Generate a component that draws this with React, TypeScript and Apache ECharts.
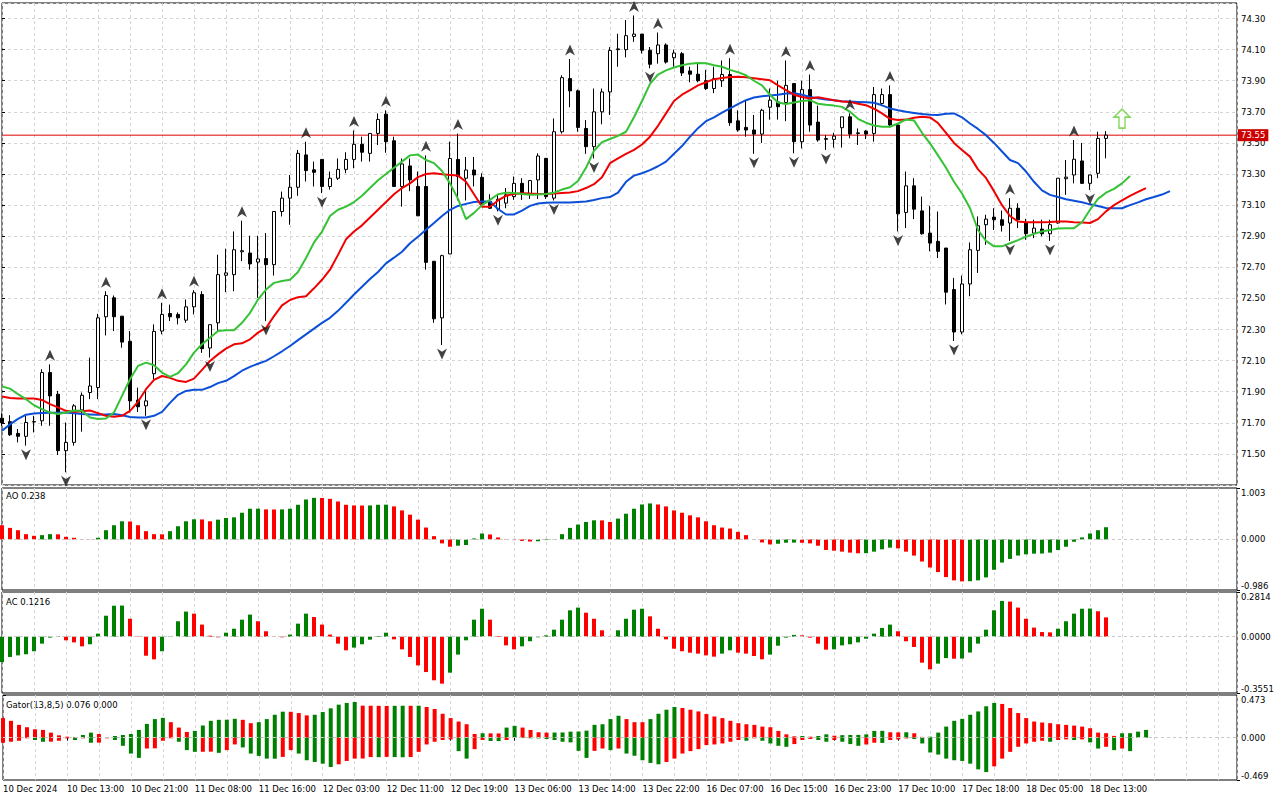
import React, { useEffect, useRef } from "react";
import * as echarts from "echarts";

// ---------------- data ----------------
const tickLabels = [
  "10 Dec 2024", "10 Dec 13:00", "10 Dec 21:00", "11 Dec 08:00", "11 Dec 16:00", "12 Dec 03:00",
  "12 Dec 11:00", "12 Dec 19:00", "13 Dec 06:00", "13 Dec 14:00", "13 Dec 22:00", "16 Dec 07:00",
  "16 Dec 15:00", "16 Dec 23:00", "17 Dec 10:00", "17 Dec 18:00", "18 Dec 05:00", "18 Dec 13:00",
];
const BARS_PER_LABEL = 8;

const opens = [71.73,71.707,71.632,71.613,71.705,71.713,72.023,71.884,71.521,71.574,
71.783,71.895,71.927,72.382,72.504,72.386,72.224,71.846,71.809,72.016,
72.29,72.403,72.397,72.36,72.446,72.525,72.181,72.343,72.649,72.653,
72.80,72.792,72.734,72.756,72.717,73.059,73.145,73.215,73.423,73.327,
73.394,73.22,73.273,73.33,73.394,73.491,73.433,73.561,73.685,73.514,
73.22,73.352,73.22,73.22,72.739,72.375,72.786,73.394,73.273,73.326,
73.279,73.123,73.075,73.113,73.155,73.24,73.17,73.262,73.401,73.145,
73.572,73.914,73.835,73.593,73.476,73.70,73.828,74.10,74.10,74.185,
74.20,74.096,74.074,74.13,74.048,74.074,73.963,73.942,73.90,73.85,
73.90,73.94,73.642,73.60,73.583,73.557,73.73,73.764,73.76,73.882,
73.508,73.843,73.634,73.523,73.523,73.598,73.668,73.561,73.576,73.561,
73.754,73.811,73.615,73.053,73.224,73.063,72.92,72.867,72.824,72.557,
72.284,72.593,72.809,72.974,73.023,73.006,72.985,73.08,72.985,72.92,
72.946,72.916,72.985,73.27,73.294,73.384,73.24,73.305,73.529];

const highs = [71.76,71.749,71.66,71.745,71.745,72.044,72.076,71.905,71.702,71.82,
71.895,72.119,72.401,72.546,72.519,72.386,72.29,71.926,71.916,72.333,
72.472,72.46,72.41,72.493,72.553,72.546,72.331,72.781,72.82,72.931,
73.0,72.903,72.903,72.92,73.059,73.187,73.294,73.455,73.508,73.38,
73.394,73.316,73.40,73.44,73.58,73.54,73.561,73.69,73.71,73.54,
73.40,73.40,73.316,73.42,72.739,72.781,73.508,73.56,73.41,73.41,
73.305,73.17,73.17,73.21,73.284,73.273,73.262,73.433,73.401,73.657,
73.935,74.04,73.843,73.647,73.85,73.85,74.116,74.202,74.29,74.32,
74.20,74.117,74.21,74.14,74.10,74.085,73.99,74.01,73.97,73.99,
74.03,74.045,73.71,73.775,73.68,73.72,73.85,73.90,74.03,73.882,
73.90,73.94,73.74,73.55,73.565,73.668,73.69,73.593,73.583,73.86,
73.85,73.87,73.62,73.316,73.273,73.155,73.096,73.059,72.824,72.632,
72.647,72.86,73.027,73.038,73.08,73.065,73.145,73.112,73.012,73.006,
73.006,73.006,73.273,73.39,73.519,73.50,73.294,73.572,73.576];

const lows = [71.68,71.615,71.574,71.553,71.638,71.681,71.681,71.493,71.382,71.553,
71.643,71.852,71.852,72.262,72.29,72.183,71.766,71.77,71.745,71.98,
72.269,72.354,72.333,72.343,72.397,72.15,72.12,72.29,72.54,72.546,
72.74,72.685,72.504,72.354,72.647,73.027,72.974,73.16,73.252,73.22,
73.177,73.20,73.262,73.305,73.337,73.38,73.38,73.486,73.437,73.22,
73.09,73.19,73.031,72.685,72.343,72.20,72.786,73.13,73.13,73.22,
73.09,73.075,73.06,73.08,73.134,73.134,73.14,73.14,73.14,73.13,
73.56,73.73,73.572,73.43,73.40,73.62,73.68,73.99,74.05,74.15,
74.075,73.98,74.01,74.01,73.99,73.93,73.89,73.89,73.84,73.82,
73.86,73.61,73.572,73.54,73.43,73.50,73.65,73.65,73.64,73.433,
73.465,73.572,73.508,73.455,73.47,73.47,73.53,73.487,73.525,73.508,
73.74,73.60,72.931,72.952,73.01,72.91,72.803,72.76,72.461,72.226,
72.269,72.514,72.664,72.845,72.94,72.93,72.87,72.952,72.877,72.888,
72.9,72.87,72.98,73.166,73.24,73.236,73.198,73.273,73.401];

const closes = [71.70,71.623,71.613,71.702,71.708,72.023,71.873,71.521,71.574,71.809,
71.877,71.937,72.375,72.519,72.382,72.219,71.841,71.803,71.841,72.288,
72.397,72.382,72.375,72.446,72.536,72.177,72.331,72.653,72.664,72.813,
72.807,72.722,72.754,72.717,73.059,73.145,73.215,73.433,73.322,73.311,
73.22,73.273,73.33,73.394,73.491,73.44,73.561,73.651,73.508,73.22,
73.365,73.262,73.031,72.732,72.369,72.775,73.40,73.284,73.326,73.294,
73.113,73.08,73.138,73.166,73.24,73.177,73.258,73.416,73.155,73.572,
73.92,73.835,73.60,73.476,73.70,73.828,74.095,74.105,74.19,74.20,
74.096,74.006,74.13,74.02,74.078,73.95,73.942,73.90,73.85,73.914,
73.94,73.63,73.583,73.583,73.557,73.71,73.775,73.733,73.87,73.508,
73.843,73.615,73.519,73.528,73.544,73.668,73.557,73.565,73.557,73.811,
73.811,73.615,73.044,73.224,73.074,72.916,72.856,72.803,72.54,72.284,
72.593,72.813,72.967,73.01,73.006,72.97,73.08,73.006,72.916,72.952,
72.916,72.974,73.273,73.28,73.395,73.24,73.294,73.529,73.55];

// Alligator (already shifted forward as drawn)
const jaw = [71.649,71.69,71.725,71.752,71.76,71.763,71.764,71.765,71.766,71.762,
71.756,71.754,71.752,71.754,71.756,71.748,71.738,71.734,71.734,71.745,
71.77,71.828,71.88,71.905,71.912,71.912,71.93,71.955,71.97,72.0,
72.035,72.06,72.08,72.098,72.128,72.16,72.194,72.232,72.269,72.306,
72.343,72.375,72.42,72.472,72.525,72.575,72.625,72.67,72.725,72.762,
72.80,72.855,72.897,72.942,72.985,73.03,73.07,73.095,73.108,73.12,
73.123,73.123,73.075,73.04,73.04,73.065,73.095,73.11,73.116,73.117,
73.117,73.117,73.12,73.123,73.133,73.145,73.152,73.18,73.25,73.29,
73.305,73.325,73.35,73.38,73.43,73.48,73.54,73.595,73.64,73.665,
73.695,73.722,73.75,73.775,73.792,73.80,73.805,73.81,73.818,73.82,
73.81,73.796,73.788,73.78,73.774,73.768,73.766,73.764,73.762,73.758,
73.742,73.722,73.71,73.70,73.693,73.686,73.682,73.679,73.688,73.69,
73.665,73.625,73.59,73.55,73.50,73.445,73.39,73.37,73.316,73.25,
73.195,73.166,73.152,73.138,73.128,73.118,73.105,73.094,73.082,73.08,
73.08,73.1,73.118,73.138,73.152,73.168,73.19];

const teeth = [71.869,71.86,71.856,71.856,71.856,71.847,71.82,71.799,71.777,71.771,
71.775,71.779,71.762,71.745,71.739,71.745,71.777,71.835,71.916,71.976,
72.001,71.989,71.97,71.963,71.984,72.04,72.098,72.14,72.177,72.205,
72.211,72.237,72.28,72.31,72.386,72.455,72.49,72.508,72.514,72.565,
72.62,72.685,72.78,72.88,72.93,72.97,73.02,73.07,73.12,73.17,
73.21,73.24,73.28,73.30,73.305,73.298,73.294,73.29,73.25,73.17,
73.09,73.09,73.13,73.16,73.172,73.177,73.174,73.172,73.172,73.174,
73.178,73.181,73.19,73.21,73.235,73.28,73.37,73.40,73.43,73.455,
73.49,73.54,73.61,73.69,73.77,73.81,73.839,73.87,73.89,73.91,
73.918,73.924,73.925,73.922,73.916,73.91,73.903,73.87,73.84,73.81,
73.795,73.786,73.794,73.785,73.775,73.767,73.764,73.752,73.743,73.72,
73.69,73.655,73.647,73.65,73.662,73.668,73.664,73.628,73.565,73.50,
73.455,73.412,73.33,73.275,73.19,73.10,73.03,72.995,72.99,72.99,
72.99,72.992,72.995,72.994,72.99,72.988,72.985,73.01,73.06,73.10,
73.13,73.16,73.185,73.21];

const lips = [71.933,71.92,71.884,71.852,71.813,71.788,71.766,71.756,71.766,71.779,
71.777,71.734,71.724,71.728,71.766,71.873,71.98,72.066,72.087,72.07,
72.023,71.995,72.019,72.076,72.151,72.205,72.247,72.29,72.296,72.296,
72.343,72.407,72.493,72.557,72.60,72.612,72.62,72.67,72.76,72.86,
72.93,73.03,73.07,73.09,73.12,73.16,73.21,73.26,73.30,73.34,
73.38,73.42,73.425,73.39,73.37,73.32,73.24,73.14,73.01,73.05,
73.10,73.134,73.17,73.18,73.178,73.172,73.166,73.168,73.172,73.18,
73.20,73.215,73.255,73.34,73.45,73.505,73.525,73.545,73.572,73.665,
73.77,73.88,73.94,73.967,73.985,74.0,74.01,74.014,74.012,74.0,
73.99,73.97,73.955,73.935,73.90,73.87,73.81,73.76,73.75,73.76,
73.77,73.775,73.752,73.745,73.74,73.732,73.70,73.655,73.63,73.612,
73.604,73.604,73.625,73.65,73.645,73.565,73.497,73.42,73.34,73.25,
73.175,73.08,72.94,72.87,72.835,72.835,72.855,72.875,72.897,72.915,
72.93,72.94,72.95,72.952,72.952,72.99,73.07,73.14,73.18,73.205,
73.24,73.288];

const upFractals = [6, 13, 20, 24, 30, 38, 44, 48, 53, 57, 71, 79, 82, 91, 98, 101, 106, 111, 126, 134];
const downFractals = [3, 8, 18, 26, 33, 40, 55, 62, 69, 74, 81, 94, 99, 103, 112, 119, 126, 131, 136];
const signalArrows = [[140, 73.656]];

const priceTicks = [71.5, 71.7, 71.9, 72.1, 72.3, 72.5, 72.7, 72.9, 73.1, 73.3, 73.5, 73.7, 73.9, 74.1, 74.3];
const priceRange = [71.3, 74.4];

const ao = [0.277,0.225,0.18,0.103,0.071,0.084,0.103,0.1,0.051,0.032,
0.005,-0.004,0.032,0.18,0.277,0.354,0.35,0.277,0.161,0.103,
0.1,0.161,0.257,0.354,0.393,0.39,0.354,0.386,0.418,0.431,
0.521,0.599,0.60,0.586,0.584,0.586,0.599,0.676,0.779,0.811,
0.809,0.792,0.74,0.676,0.663,0.661,0.663,0.676,0.678,0.644,
0.566,0.483,0.386,0.232,0.064,-0.077,-0.142,-0.122,-0.109,0.019,
0.116,0.097,0.039,0.006,-0.013,-0.028,-0.04,-0.036,-0.012,0.005,
0.103,0.225,0.29,0.341,0.373,0.371,0.341,0.406,0.502,0.599,
0.682,0.702,0.682,0.644,0.566,0.521,0.47,0.431,0.354,0.277,
0.232,0.212,0.148,0.084,0.006,-0.058,-0.097,-0.084,-0.064,-0.062,
-0.065,-0.077,-0.122,-0.206,-0.219,-0.238,-0.257,-0.27,-0.268,-0.238,
-0.193,-0.161,-0.174,-0.238,-0.315,-0.431,-0.547,-0.637,-0.734,-0.798,
-0.818,-0.815,-0.798,-0.74,-0.592,-0.451,-0.38,-0.315,-0.29,-0.277,
-0.275,-0.257,-0.206,-0.142,-0.045,0.039,0.116,0.18,0.238];
const aoFirstUp = false;

const ac = [-0.16,-0.128,-0.118,-0.111,-0.092,-0.044,-0.006,0.004,-0.023,-0.036,
-0.061,-0.048,0.019,0.132,0.195,0.196,0.113,-0.002,-0.12,-0.143,
-0.092,0.002,0.097,0.158,0.145,0.076,0.006,-0.004,0.025,0.05,
0.107,0.139,0.097,0.034,-0.002,-0.004,0.013,0.082,0.145,0.124,
0.076,0.013,-0.044,-0.086,-0.069,-0.048,-0.019,0.004,0.025,-0.017,
-0.08,-0.128,-0.181,-0.223,-0.275,-0.296,-0.227,-0.113,-0.023,0.107,
0.176,0.107,0.004,-0.055,-0.08,-0.061,-0.029,-0.004,0.008,0.044,
0.107,0.166,0.183,0.151,0.113,0.04,-0.001,0.04,0.113,0.17,
0.176,0.128,0.05,-0.017,-0.076,-0.092,-0.101,-0.107,-0.118,-0.126,
-0.107,-0.086,-0.101,-0.107,-0.122,-0.143,-0.113,-0.057,-0.006,0.011,
0.008,-0.006,-0.044,-0.082,-0.08,-0.055,-0.048,-0.036,-0.013,0.019,
0.055,0.076,0.034,-0.029,-0.065,-0.164,-0.206,-0.17,-0.135,-0.139,
-0.138,-0.1,-0.044,0.044,0.166,0.225,0.221,0.183,0.113,0.057,
0.029,0.027,0.05,0.097,0.145,0.176,0.177,0.160,0.1216];
const acFirstUp = true;

const gatorUp = [0.217,0.187,0.142,0.116,0.093,0.086,0.056,0.026,0.011,0.004,
0.03,0.056,0.041,0.002,0.019,0.03,0.041,0.086,0.153,0.206,
0.22,0.172,0.112,0.064,0.075,0.135,0.187,0.198,0.199,0.209,
0.198,0.161,0.172,0.206,0.254,0.288,0.287,0.273,0.247,0.254,
0.284,0.325,0.366,0.385,0.396,0.355,0.354,0.353,0.352,0.353,
0.354,0.353,0.354,0.34,0.318,0.265,0.217,0.179,0.149,0.041,
0.049,0.048,0.047,0.112,0.131,0.112,0.086,0.06,0.056,0.057,
0.058,0.067,0.068,0.078,0.142,0.149,0.206,0.243,0.206,0.172,
0.172,0.206,0.265,0.31,0.34,0.329,0.31,0.291,0.262,0.235,
0.217,0.187,0.161,0.149,0.142,0.123,0.116,0.075,0.037,0.015,
0.019,0.011,0.019,0.037,0.022,0.028,0.03,0.031,0.037,0.075,
0.076,0.06,0.059,0.06,0.049,0.009,0.011,0.056,0.123,0.187,
0.209,0.254,0.291,0.348,0.385,0.374,0.329,0.273,0.217,0.179,
0.168,0.161,0.149,0.142,0.134,0.123,0.105,0.056,0.05,0.02,
0.049,0.05,0.067,0.086];

const gatorDown = [-0.056,-0.045,-0.034,-0.007,-0.026,-0.045,-0.044,-0.034,-0.008,-0.026,
-0.007,-0.056,-0.055,-0.007,-0.026,-0.09,-0.176,-0.224,-0.12,-0.118,
-0.034,-0.007,-0.045,-0.138,-0.157,-0.156,-0.155,-0.168,-0.138,-0.075,
-0.108,-0.176,-0.202,-0.232,-0.233,-0.213,-0.138,-0.176,-0.25,-0.269,
-0.288,-0.325,-0.295,-0.258,-0.232,-0.231,-0.215,-0.216,-0.213,-0.215,
-0.217,-0.214,-0.157,-0.075,-0.045,-0.026,-0.019,-0.149,-0.232,-0.127,
-0.026,-0.037,-0.038,-0.026,-0.003,-0.004,-0.007,-0.008,-0.015,-0.026,
-0.045,-0.052,-0.146,-0.224,-0.146,-0.12,-0.138,-0.12,-0.176,-0.20,
-0.25,-0.28,-0.295,-0.269,-0.232,-0.176,-0.149,-0.127,-0.082,-0.075,
-0.064,-0.045,-0.026,-0.034,-0.007,-0.034,-0.064,-0.09,-0.101,-0.071,
-0.026,-0.015,-0.026,-0.045,-0.026,-0.045,-0.071,-0.09,-0.075,-0.056,
-0.058,-0.026,-0.02,-0.008,-0.015,-0.064,-0.164,-0.187,-0.232,-0.25,
-0.258,-0.288,-0.351,-0.381,-0.318,-0.232,-0.157,-0.101,-0.064,-0.045,
-0.034,-0.045,-0.026,-0.019,-0.026,-0.019,-0.052,-0.12,-0.101,-0.138,
-0.12,-0.149];

const aoRange = [-0.986, 1.003];
const acRange = [-0.3551, 0.2814];
const gatorRange = [-0.469, 0.473];
const panelTitles = ["AO 0.238", "AC 0.1216", "Gator(13,8,5) 0.076 0.000"];

// ---------------- layout & style ----------------
const PLOT_LEFT = 2;
const PLOT_WIDTH = 1235;
const BAR_PX = 8;
const X_MAX = PLOT_WIDTH / BAR_PX;
const panels = [
  { top: 3, height: 482 },
  { top: 488, height: 102 },
  { top: 592, height: 101 },
  { top: 695, height: 85 },
];
const titleTops = [491, 597, 700];
const FONT = "DejaVu Sans";
const FS = 8.5;
const UP = "#008000";
const DOWN = "#ff0000";
const PRICE_LINE = "#e00000";
const GRID_LINE = { color: "#d4d4d4", type: [3, 3] as any, width: 1 };

function barColors(vals: number[], firstUp: boolean, useAbs: boolean) {
  return vals.map((v, i) => {
    if (i === 0) return firstUp ? UP : DOWN;
    const a = useAbs ? Math.abs(v) : v;
    const b = useAbs ? Math.abs(vals[i - 1]) : vals[i - 1];
    return a > b ? UP : DOWN;
  });
}

function barData(vals: number[], cols: string[]) {
  return vals.map((v, i) => ({ value: [i, v], itemStyle: { color: cols[i] } }));
}

function panelAxes(gridIndex: number, range: number[], decimals: number) {
  const [mn, mx] = range;
  const mk = (vals: number[], va: string) => ({
    type: "value",
    gridIndex,
    position: "right",
    min: mn,
    max: mx,
    axisLine: { show: false },
    splitLine: { show: false },
    axisTick: { show: true, customValues: vals, length: 3, lineStyle: { color: "#000" } },
    axisLabel: {
      show: true,
      customValues: vals,
      verticalAlign: va,
      margin: 4,
      color: "#000",
      fontFamily: FONT,
      fontSize: FS,
      formatter: (v: number) => v.toFixed(decimals),
    },
  });
  return [mk([0], "middle"), mk([mx], "top"), mk([mn], "bottom")];
}

const zeroLine = {
  silent: true,
  symbol: ["none", "none"],
  label: { show: false },
  lineStyle: { color: "#c8c8c8", type: [3, 3] as any, width: 1 },
  data: [{ yAxis: 0 }],
};

function buildOption() {
  const lastClose = closes[closes.length - 1];
  const labelBars = tickLabels.map((_, k) => k * BARS_PER_LABEL);

  const grids = panels.map((p) => ({
    left: PLOT_LEFT,
    top: p.top,
    width: PLOT_WIDTH,
    height: p.height,
    show: true,
    borderColor: "#000",
    borderWidth: 1,
    backgroundColor: "#fff",
  }));

  const xAxes: any[] = panels.map((_, g) => ({
    type: "value",
    gridIndex: g,
    min: 0,
    max: X_MAX,
    interval: 4,
    axisLine: { show: false },
    axisTick: { show: false },
    axisLabel: { show: false },
    splitLine: { show: true, lineStyle: GRID_LINE },
  }));
  xAxes.push({
    type: "value",
    gridIndex: 3,
    position: "bottom",
    min: 0,
    max: X_MAX,
    axisLine: { show: false },
    splitLine: { show: false },
    axisTick: { show: true, customValues: labelBars, length: 3, lineStyle: { color: "#000" } },
    axisLabel: {
      show: true,
      customValues: labelBars,
      align: "left",
      margin: 4,
      color: "#000",
      fontFamily: FONT,
      fontSize: FS,
      formatter: (v: number) => tickLabels[Math.round(v / BARS_PER_LABEL)],
    },
  });

  const yAxes: any[] = [
    {
      type: "value",
      gridIndex: 0,
      position: "right",
      min: priceRange[0],
      max: priceRange[1],
      axisLine: { show: false },
      splitLine: { show: false },
      axisTick: { show: true, customValues: priceTicks, length: 3, lineStyle: { color: "#000" } },
      axisLabel: {
        show: true,
        customValues: priceTicks,
        margin: 4,
        color: "#000",
        fontFamily: FONT,
        fontSize: FS,
        formatter: (v: number) => v.toFixed(2),
      },
    },
    {
      // horizontal price grid lines (offset scale starting at the bottom edge)
      type: "value",
      gridIndex: 0,
      position: "left",
      min: 0,
      max: priceRange[1] - priceRange[0],
      interval: 0.2,
      axisLine: { show: false },
      axisTick: { show: false },
      axisLabel: { show: false },
      splitLine: { show: true, lineStyle: GRID_LINE },
    },
    ...panelAxes(1, aoRange, 3),
    ...panelAxes(2, acRange, 4),
    ...panelAxes(3, gatorRange, 3),
  ];

  const lineSeries = (data: number[], color: string) => ({
    type: "line",
    xAxisIndex: 0,
    yAxisIndex: 0,
    data: data.map((v, i) => [i, v]),
    showSymbol: false,
    symbol: "none",
    lineStyle: { color, width: 2 },
    itemStyle: { color },
    z: 4,
    silent: true,
  });

  const series: any[] = [
    {
      type: "candlestick",
      xAxisIndex: 0,
      yAxisIndex: 0,
      barWidth: 4,
      data: opens.map((o, i) => [i, o, closes[i], lows[i], highs[i]]),
      itemStyle: {
        color: "#ffffff",
        color0: "#000000",
        borderColor: "#000000",
        borderColor0: "#000000",
        borderWidth: 1,
      },
      z: 3,
    },
    {
      // current-price line across the whole plot, with its price box at the right end
      type: "line",
      xAxisIndex: 0,
      yAxisIndex: 0,
      data: [[0, lastClose], [X_MAX, lastClose]],
      showSymbol: false,
      symbol: "none",
      silent: true,
      z: 3,
      color: PRICE_LINE,
      itemStyle: { color: PRICE_LINE },
      lineStyle: { color: PRICE_LINE, width: 1, type: "solid" },
      endLabel: {
        show: true,
        distance: 1,
        formatter: () => lastClose.toFixed(2),
        color: "#ffffff",
        backgroundColor: "#cc0000",
        padding: [2, 3, 1, 3],
        fontFamily: FONT,
        fontSize: FS,
      },
    },
    lineSeries(jaw, "#0b4fd8"),
    lineSeries(teeth, "#f00000"),
    lineSeries(lips, "#36c236"),
    {
      type: "scatter",
      xAxisIndex: 0,
      yAxisIndex: 0,
      data: upFractals.map((i) => [i, highs[i]]),
      symbol: "path://M5,0L10,10L5,7L0,10Z",
      symbolSize: [10, 11],
      symbolOffset: [0, -9],
      itemStyle: { color: "#111111" },
      z: 5,
      silent: true,
    },
    {
      type: "scatter",
      xAxisIndex: 0,
      yAxisIndex: 0,
      data: downFractals.map((i) => [i, lows[i]]),
      symbol: "path://M0,0L5,3L10,0L5,10Z",
      symbolSize: [10, 11],
      symbolOffset: [0, 9],
      itemStyle: { color: "#111111" },
      z: 5,
      silent: true,
    },
    {
      type: "scatter",
      xAxisIndex: 0,
      yAxisIndex: 0,
      data: signalArrows,
      symbol: "path://M8,0L16,8L11,8L11,19L5,19L5,8L0,8Z",
      symbolSize: [16, 19],
      itemStyle: { color: "#ffffff", borderColor: "#66cc33", borderWidth: 1.5 },
      z: 5,
      silent: true,
    },
    {
      type: "bar",
      xAxisIndex: 1,
      yAxisIndex: 2,
      barWidth: 4,
      data: barData(ao, barColors(ao, aoFirstUp, false)),
      markLine: zeroLine,
      silent: true,
    },
    {
      type: "bar",
      xAxisIndex: 2,
      yAxisIndex: 5,
      barWidth: 4,
      data: barData(ac, barColors(ac, acFirstUp, false)),
      markLine: zeroLine,
      silent: true,
    },
    {
      type: "bar",
      xAxisIndex: 3,
      yAxisIndex: 8,
      barWidth: 4,
      barGap: "-100%",
      data: barData(gatorUp, barColors(gatorUp, false, false)),
      silent: true,
    },
    {
      type: "bar",
      xAxisIndex: 3,
      yAxisIndex: 8,
      barWidth: 4,
      barGap: "-100%",
      data: barData(gatorDown, barColors(gatorDown, false, true)),
      markLine: zeroLine,
      silent: true,
    },
  ];

  return {
    animation: false,
    backgroundColor: "#ffffff",
    grid: grids,
    xAxis: xAxes,
    yAxis: yAxes,
    series,
    graphic: panelTitles.map((t, k) => ({
      type: "text",
      left: 6,
      top: titleTops[k],
      silent: true,
      style: { text: t, fill: "#000", fontFamily: FONT, fontSize: FS },
    })),
  };
}

export default function App() {
  const ref = useRef<HTMLDivElement>(null);
  useEffect(() => {
    if (!ref.current) return;
    const chart = echarts.init(ref.current, null, { renderer: "svg" });
    chart.setOption(buildOption() as any);
    return () => chart.dispose();
  }, []);
  return (
    <div
      ref={ref}
      style={{ position: "fixed", left: 0, top: 0, width: 1280, height: 800, background: "#fff" }}
    />
  );
}
